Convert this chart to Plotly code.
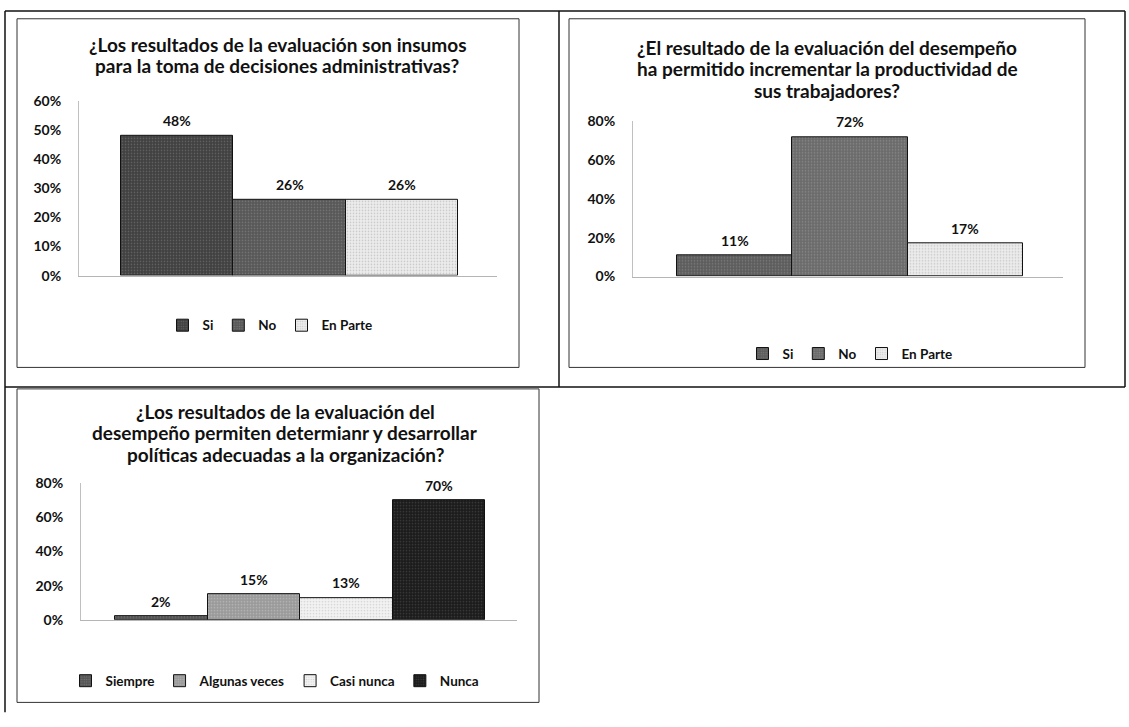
import plotly.graph_objects as go

W, H = 1129, 727

# ---------------- data ----------------
p1_title = ["¿Los resultados de la evaluación son insumos",
            "para la toma de decisiones administrativas?"]
p1_cats = ["Si", "No", "En Parte"]
p1_vals = [0.48, 0.26, 0.26]

p2_title = ["¿El resultado de la evaluación del desempeño",
            "ha permitido incrementar la productividad de",
            "sus trabajadores?"]
p2_cats = ["Si", "No", "En Parte"]
p2_vals = [0.11, 0.72, 0.17]

p3_title = ["¿Los resultados de la evaluación del",
            "desempeño permiten determianr y desarrollar",
            "políticas adecuadas a la organización?"]
p3_cats = ["Siempre", "Algunas veces", "Casi nunca", "Nunca"]
p3_vals = [0.02, 0.15, 0.13, 0.70]

y1_ticks = [0, 0.1, 0.2, 0.3, 0.4, 0.5, 0.6]
y23_ticks = [0, 0.2, 0.4, 0.6, 0.8]

# styles (bg, speckle)
p1_styles = [("#404040", "#8c8c8c"), ("#575757", "#9a9a9a"), ("#ececec", "#9e9e9e")]
p2_styles = [("#5c5c5c", "#9c9c9c"), ("#6a6a6a", "#a8a8a8"), ("#ebebeb", "#a5a5a5")]
p3_styles = [("#555555", "#999999"), ("#9a9a9a", "#d0d0d0"), ("#f2f2f2", "#b5b5b5"), ("#1c1c1c", "#5a5a5a")]

FONT = "Lato"
INK = "#111111"


def px(x):
    return x / W


def py(y):
    return 1 - y / H


fig = go.Figure()
label_annots = []


def add_panel(cats, vals, styles, xa, ya, legend):
    for i, (c, v) in enumerate(zip(cats, vals)):
        bg, fg = styles[i]
        fig.add_trace(go.Bar(
            x=[c], y=[v], name=c, xaxis=xa, yaxis=ya, legend=legend,
            marker=dict(color=bg, line=dict(color=INK, width=1),
                        pattern=dict(shape=".", fgcolor=fg, bgcolor=bg, size=3, solidity=0.25)),
            hoverinfo="skip",
        ))
        label_annots.append(dict(
            x=c, y=v, xref=xa, yref=ya, text=f"{v:.0%}", showarrow=False,
            xanchor="center", yanchor="middle", yshift=15,
            font=dict(family=FONT, size=14, color=INK, weight="bold")))


add_panel(p1_cats, p1_vals, p1_styles, "x", "y", "legend")
add_panel(p2_cats, p2_vals, p2_styles, "x2", "y2", "legend2")
add_panel(p3_cats, p3_vals, p3_styles, "x3", "y3", "legend3")

tickfont = dict(family=FONT, size=14, color=INK, weight="bold")
axis_common_x = dict(showticklabels=False, showgrid=False, zeroline=False, showline=True,
                     linecolor="#b5b5b5", linewidth=1, ticks="", type="category", fixedrange=True)
axis_common_y = dict(showgrid=False, zeroline=False, showline=True, linecolor="#c0c0c0",
                     linewidth=1, ticks="", tickformat=".0%", tickfont=tickfont,
                     ticklabelstandoff=14)

legend_common = dict(orientation="h", xanchor="center", yanchor="middle",
                     font=dict(family=FONT, size=13.5, color=INK, weight="bold"),
                     bgcolor="rgba(0,0,0,0)", itemclick=False, itemwidth=30, tracegroupgap=0)

fig.update_layout(
    width=W, height=H, margin=dict(l=0, r=0, t=0, b=0),
    paper_bgcolor="white", plot_bgcolor="white",
    barmode="overlay", bargap=0, showlegend=True,
    xaxis=dict(domain=[px(79), px(497)], range=[-0.874, 2.847], anchor="y", **axis_common_x),
    yaxis=dict(domain=[py(273), py(94)], range=[0, 0.6], tickvals=y1_ticks, anchor="x", **axis_common_y),
    xaxis2=dict(domain=[px(633), px(1063)], range=[-0.882, 2.847], anchor="y2", **axis_common_x),
    yaxis2=dict(domain=[py(274), py(115)], range=[0, 0.8], tickvals=y23_ticks, anchor="x2", **axis_common_y),
    xaxis3=dict(domain=[px(81), px(517)], range=[-0.868, 3.843], anchor="y3", **axis_common_x),
    yaxis3=dict(domain=[py(625.5), py(485.5)], range=[0, 0.8], tickvals=y23_ticks, anchor="x3", **axis_common_y),
    legend=dict(x=px(270), y=py(324), **legend_common),
    legend2=dict(x=px(850), y=py(353), **legend_common),
    legend3=dict(x=px(275), y=py(688), **legend_common),
)

title_font = dict(family=FONT, size=19, color=INK, weight="bold")
annots = list(label_annots)
for lines, cx, ys in [(p1_title, 277, [36, 57.5]),
                      (p2_title, 827, [39, 61, 83]),
                      (p3_title, 285, [412, 434, 456])]:
    for text, cy in zip(lines, ys):
        annots.append(dict(text=text, x=px(cx), y=py(cy), xref="paper", yref="paper",
                           showarrow=False, xanchor="center", yanchor="middle",
                           font=title_font))
fig.update_layout(annotations=annots)

shapes = []
# chart frames
for x0, y0, x1, y1 in [(17, 10, 519, 367), (569, 10, 1085, 367), (17, 389, 539, 710)]:
    shapes.append(dict(type="rect", xref="paper", yref="paper", x0=px(x0), x1=px(x1), y0=py(y0), y1=py(y1),
                       line=dict(color="#333333", width=1), fillcolor="rgba(0,0,0,0)", layer="above"))
# table borders
for x0, y0, x1, y1 in [(5, 2, 1125, 2), (5, 387, 1125, 387), (5, 2, 5, 720),
                       (559, 2, 559, 387), (1125, 2, 1125, 387)]:
    shapes.append(dict(type="line", xref="paper", yref="paper", x0=px(x0), x1=px(x1), y0=py(y0), y1=py(y1),
                       line=dict(color=INK, width=1.5)))
fig.update_layout(shapes=shapes)

fig.write_html("out.html", config={"displayModeBar": False})
